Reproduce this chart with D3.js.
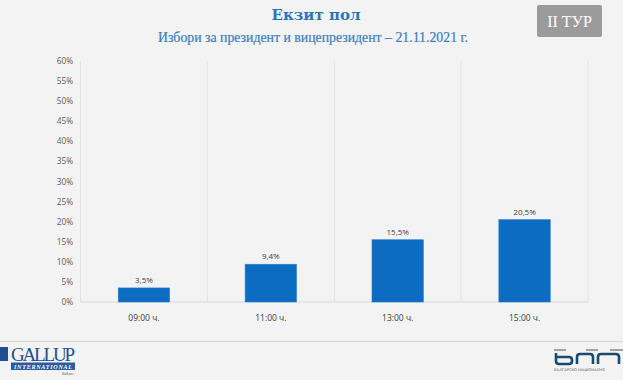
<!DOCTYPE html>
<html>
<head>
<meta charset="utf-8">
<script src="https://cdn.jsdelivr.net/npm/d3@7"></script>
<style>
  body { margin: 0; background: #f3f3f3; }
  svg { display: block; }
</style>
</head>
<body>
<div id="chart"></div>
<script>
// exit poll turnout by hour
const hours = ['09:00 ч.', '11:00 ч.', '13:00 ч.', '15:00 ч.'];
const turnout = [3.5, 9.4, 15.5, 20.5];
const valueLabels = ['3,5%', '9,4%', '15,5%', '20,5%'];
const yTicks = [0, 5, 10, 15, 20, 25, 30, 35, 40, 45, 50, 55, 60];

const width = 623, height = 380;
const margin = { left: 80.5, right: 35, top: 61, bottom: 78 };

const svg = d3.select('#chart').append('svg')
    .attr('width', width)
    .attr('height', height);

svg.append('rect').attr('width', width).attr('height', height).attr('fill', '#f3f3f3');

const x = d3.scaleBand()
    .domain(hours)
    .range([margin.left, width - margin.right])
    .paddingInner(0.595)
    .paddingOuter(0.2975);

const y = d3.scaleLinear()
    .domain([0, 60])
    .range([height - margin.bottom, margin.top]);

// vertical separators between categories
const step = x.step();
const bounds = d3.range(hours.length + 1).map(i => margin.left + i * step);
svg.append('g').selectAll('line')
    .data(bounds)
    .join('line')
    .attr('x1', d => d).attr('x2', d => d)
    .attr('y1', y(60)).attr('y2', y(0))
    .attr('stroke', '#e4e4e4')
    .attr('stroke-width', 1);

// baseline
svg.append('line')
    .attr('x1', margin.left).attr('x2', width - margin.right)
    .attr('y1', y(0)).attr('y2', y(0))
    .attr('stroke', '#d9d9d9');

// y axis labels
svg.append('g').selectAll('text')
    .data(yTicks)
    .join('text')
    .attr('x', 73)
    .attr('y', d => y(d) + 3)
    .attr('text-anchor', 'end')
    .attr('font-family', 'Open Sans, sans-serif')
    .attr('font-size', 8.3)
    .attr('fill', '#606060')
    .text(d => d + '%');

// bars
svg.append('g').selectAll('rect')
    .data(turnout)
    .join('rect')
    .attr('x', (d, i) => x(hours[i]))
    .attr('y', d => y(d))
    .attr('width', x.bandwidth())
    .attr('height', d => y(0) - y(d))
    .attr('fill', '#0b6cc1')
    .attr('stroke', '#2a7fd0')
    .attr('stroke-width', 0.6);

// value labels
svg.append('g').selectAll('text')
    .data(turnout)
    .join('text')
    .attr('x', (d, i) => x(hours[i]) + x.bandwidth() / 2)
    .attr('y', d => y(d) - 5)
    .attr('text-anchor', 'middle')
    .attr('font-family', 'Open Sans, sans-serif')
    .attr('font-size', 8)
    .attr('fill', '#404040')
    .text((d, i) => valueLabels[i]);

// category labels
svg.append('g').selectAll('text')
    .data(hours)
    .join('text')
    .attr('x', d => x(d) + x.bandwidth() / 2)
    .attr('y', y(0) + 19)
    .attr('text-anchor', 'middle')
    .attr('font-family', 'Open Sans, sans-serif')
    .attr('font-size', 8.5)
    .attr('fill', '#404040')
    .text(d => d);

// titles
svg.append('text')
    .attr('x', 316).attr('y', 20)
    .attr('text-anchor', 'middle')
    .attr('font-family', 'DejaVu Serif, serif')
    .attr('font-weight', 'bold')
    .attr('font-size', 15)
    .attr('fill', '#2e74b5')
    .text('Екзит пол');

svg.append('text')
    .attr('x', 313).attr('y', 42)
    .attr('text-anchor', 'middle')
    .attr('font-family', 'Liberation Serif, serif')
    .attr('font-size', 13.8)
    .attr('fill', '#3b7dbd')
    .attr('stroke', '#3b7dbd')
    .attr('stroke-width', 0.2)
    .text('Избори за президент и вицепрезидент – 21.11.2021 г.');

// round badge
svg.append('rect')
    .attr('x', 537).attr('y', 5).attr('width', 65).attr('height', 32)
    .attr('rx', 2)
    .attr('fill', '#9b9b9b');
svg.append('text')
    .attr('x', 569.5).attr('y', 27)
    .attr('text-anchor', 'middle')
    .attr('font-family', 'Liberation Serif, serif')
    .attr('font-size', 16)
    .attr('fill', '#ffffff')
    .text('II ТУР');

// footer line
svg.append('line')
    .attr('x1', 0).attr('x2', width)
    .attr('y1', 341.5).attr('y2', 341.5)
    .attr('stroke', '#d6d6d6');

// gallup logo
const g1 = svg.append('g');
g1.append('rect').attr('x', 0).attr('y', 347).attr('width', 8).attr('height', 14).attr('fill', '#1f4f8f');
g1.append('text').attr('x', 11).attr('y', 361)
    .attr('font-family', 'Liberation Serif, serif')
    .attr('font-size', 19)
    .attr('fill', '#1f4f8f')
    .attr('textLength', 64)
    .text('GALLUP');
g1.append('rect').attr('x', 11).attr('y', 362.5).attr('width', 64).attr('height', 7.5).attr('fill', '#2a5c9e');
g1.append('text').attr('x', 43).attr('y', 368.8)
    .attr('text-anchor', 'middle')
    .attr('font-family', 'Liberation Serif, serif')
    .attr('font-style', 'italic')
    .attr('font-weight', 'bold')
    .attr('font-size', 6)
    .attr('fill', '#ffffff')
    .attr('textLength', 58)
    .text('INTERNATIONAL');
g1.append('text').attr('x', 62).attr('y', 375)
    .attr('font-family', 'Liberation Serif, serif')
    .attr('font-style', 'italic')
    .attr('font-size', 3.5)
    .attr('fill', '#555')
    .text('Balkans');

// bnr logo
const g2 = svg.append('g');
g2.append('rect').attr('x', 554).attr('y', 349).attr('width', 12).attr('height', 2).attr('fill', '#9aa3aa');
g2.append('rect').attr('x', 586).attr('y', 349).attr('width', 12).attr('height', 2).attr('fill', '#9aa3aa');
g2.append('rect').attr('x', 610).attr('y', 349).attr('width', 13).attr('height', 2).attr('fill', '#9aa3aa');
g2.append('path')
    .attr('d', 'M556,353 L556,361 Q556,364 559,364 L569,364 Q572,364 572,361 L572,360 Q572,357 569,357 L556,357')
    .attr('fill', 'none').attr('stroke', '#1c4a6e').attr('stroke-width', 2.6);
g2.append('path')
    .attr('d', 'M577,364 L577,357 Q577,354 580,354 L590,354 Q593,354 593,357 L593,364')
    .attr('fill', 'none').attr('stroke', '#1c4a6e').attr('stroke-width', 2.6);
g2.append('path')
    .attr('d', 'M598,364 L598,357 Q598,354 601,354 L616,354 Q619,354 619,357 L619,364')
    .attr('fill', 'none').attr('stroke', '#1c4a6e').attr('stroke-width', 2.6);
g2.append('text').attr('x', 554).attr('y', 371)
    .attr('font-family', 'DejaVu Sans, sans-serif')
    .attr('font-size', 3.6)
    .attr('fill', '#555')
    .text('БЪЛГАРСКО НАЦИОНАЛНО');
</script>
</body>
</html>
